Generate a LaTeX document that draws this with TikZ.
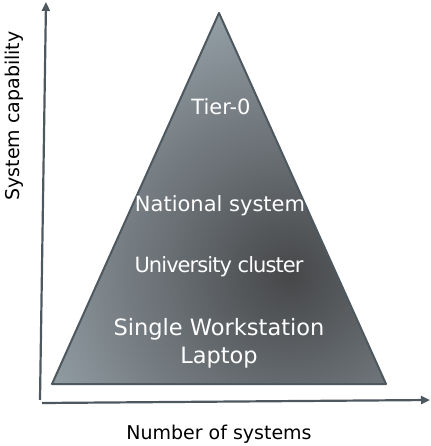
\documentclass[tikz,border=0pt]{standalone}
\usepackage{fontspec}
\setmainfont{DejaVu Sans}
\usetikzlibrary{arrows.meta,positioning,calc}
\definecolor{axgray}{RGB}{78,88,95}
\definecolor{pyrdark}{RGB}{70,71,73}
\definecolor{pyrlight}{RGB}{150,162,169}
\tikzset{
  axis/.style   = { draw=axgray, line width=2.2pt, -{Triangle[length=9pt,width=8pt]} },
  tier/.style   = { text=white, font=\fontsize{21}{28}\selectfont, align=center, inner sep=0pt },
  axlabel/.style= { text=black, font=\fontsize{19}{23}\selectfont, inner sep=0pt }
}
\begin{document}
\begin{tikzpicture}[x=1pt,y=-1pt]
    \useasboundingbox (0,0) rectangle (430,446);
    % pyramid corners
    \coordinate (apex) at (219,13);
    \coordinate (bl) at (52,384);
    \coordinate (br) at (386,384);
    \coordinate (darkc) at (290,275);

    \begin{scope}
      \clip (apex) -- (br) -- (bl) -- cycle;
      \shade[inner color=pyrdark, outer color=pyrlight] (darkc) circle (280);
    \end{scope}
    \draw[axgray, line width=2pt, line join=round] (apex) -- (br) -- (bl) -- cycle;

    % axes
    \coordinate (o1) at (40,400);
    \coordinate (ytip) at (46,2);
    \coordinate (o2) at (42,403);
    \coordinate (xtip) at (430,400);
    \draw[axis] (o1) -- (ytip);
    \draw[axis] (o2) -- (xtip);

    \node[tier, anchor=base] (t0) at (221,115) {Tier-0};
    \node[tier, anchor=base] (nat) at (220,211) {National system};
    \node[tier, anchor=base, font=\fontsize{21}{28}\selectfont\addfontfeatures{LetterSpace=-4.5}] (uni) at (219,272) {University cluster};
    \node[tier, anchor=base, font=\fontsize{22.5}{28}\selectfont] (ws) at (219,363) {Single Workstation\\Laptop};

    \node[axlabel, anchor=base] (xl) at (219,439) {Number of systems};
    \node[axlabel, rotate=90, anchor=base] (yl) at (19,116) {System capability};
\end{tikzpicture}
\end{document}
